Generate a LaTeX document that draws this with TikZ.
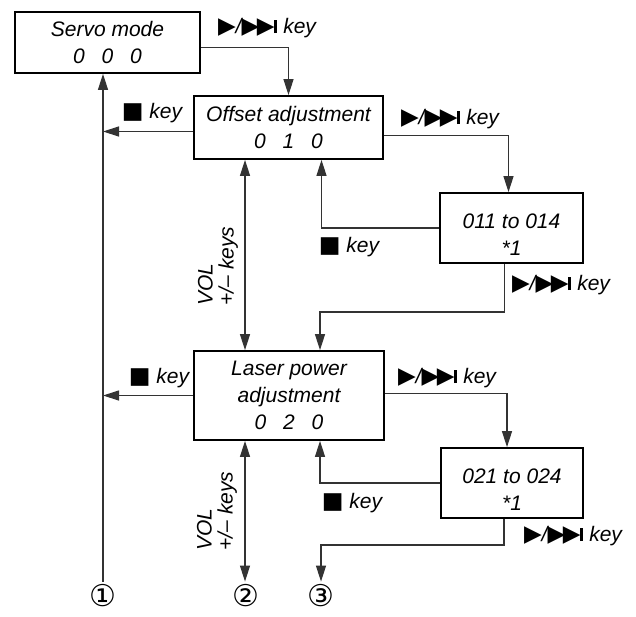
\documentclass[tikz,border=0pt]{standalone}
\usepackage{fontspec}
\setmainfont{Liberation Sans}
\newfontfamily\symf{DejaVu Sans}
\usetikzlibrary{arrows.meta, positioning}

\newcommand\symsz{\symf\fontsize{23}{23}\selectfont}
\newcommand\fwdkey{{\symsz ▶}/{\symsz ▶\kern-2.5pt▶}\kern-0.5pt\rule[0.3pt]{3.5pt}{13pt}\ key}
\newcommand\stopkey{{\symsz ■}\ key}
\newcommand\dgap{\hspace{0.8em}}

\begin{document}
\begin{tikzpicture}[x=1pt, y=-1pt,
    font=\fontsize{21}{27}\selectfont\itshape,
    box/.style={draw, line width=1.8pt, inner sep=0pt, align=center},
    link/.style={line width=1.2pt, black!80, -{Triangle[length=16pt, width=10pt]}},
    both/.style={link, {Triangle[length=16pt, width=10pt]}-{Triangle[length=16pt, width=10pt]}},
    lbl/.style={inner sep=0pt, font=\fontsize{21}{24}\selectfont\itshape},
    vol/.style={inner sep=0pt, rotate=90, align=left, font=\fontsize{21}{21}\selectfont\itshape},
    num/.style={inner sep=0pt, font=\symf\fontsize{30}{30}\selectfont}]
  \useasboundingbox (0,0) rectangle (636,616);

  \node[box, minimum width=185pt, minimum height=61pt] (servo) at (107.5,42.5) {Servo mode\\0\dgap0\dgap0};
  \node[box, minimum width=189pt, minimum height=63pt] (offset) at (288.5,127.5) {Offset adjustment\\0\dgap1\dgap0};
  \node[box, minimum width=143pt, minimum height=70pt] (sub1) at (511.5,228) {\rule{0pt}{27pt}011 to 014\\*1};
  \node[box, minimum width=190pt, minimum height=89pt] (laser) at (289,395.5) {Laser power\\adjustment\\0\dgap2\dgap0};
  \node[box, minimum width=142pt, minimum height=70pt] (sub2) at (512,483) {\rule{0pt}{27pt}021 to 024\\*1};

  \node[num] (n1) at (103,596) {①};
  \node[num] (n2) at (246,596) {②};
  \node[num] (n3) at (321,596) {③};
  \coordinate (v) at (245,0);

  \node[lbl] (f1) at (267,28) {\fwdkey};
  \node[lbl] (s1) at (152,113) {\stopkey};
  \node[lbl] (f2) at (450,119) {\fwdkey};
  \node[lbl] (s2) at (349,247) {\stopkey};
  \node[lbl] (f3) at (561,285) {\fwdkey};
  \node[lbl] (s3) at (159,378) {\stopkey};
  \node[lbl] (f4) at (447,378) {\fwdkey};
  \node[lbl] (s4) at (352,503) {\stopkey};
  \node[lbl] (f5) at (573,536) {\fwdkey};
  \node[vol] (vol1) at (218,266) {VOL\\+/– keys};
  \node[vol] (vol2) at (217,511) {VOL\\+/– keys};

  \draw[link] ([yshift=3pt]n1.north) -- (n1 |- servo.south);
  \draw[link] ([yshift=-5pt]servo.east) -| (offset.north);
  \draw[link] ([yshift=-4pt]offset.west) -- ([yshift=-4pt]offset.west -| n1);
  \draw[link] ([yshift=-8pt]offset.east) -| ([xshift=-3pt]sub1.north);
  \draw[link] (sub1.west) -| ([xshift=33pt]offset.south);
  \draw[both] (offset.south -| v) -- (laser.north -| v);
  \draw[link] ([xshift=-7pt]sub1.south) -- ++(0,48) -| ([xshift=31pt]laser.north);
  \draw[link] (laser.west) -- (laser.west -| n1);
  \draw[link] ([yshift=2pt]laser.east) -| ([xshift=-5pt]sub2.north);
  \draw[link] (sub2.west) -| ([xshift=31pt]laser.south);
  \draw[both] (laser.south -| v) -- ([yshift=3pt]n2.north -| v);
  \draw[link] ([xshift=-8pt]sub2.south) -- ++(0,26) -| ([yshift=3pt]n3.north);
\end{tikzpicture}
\end{document}
